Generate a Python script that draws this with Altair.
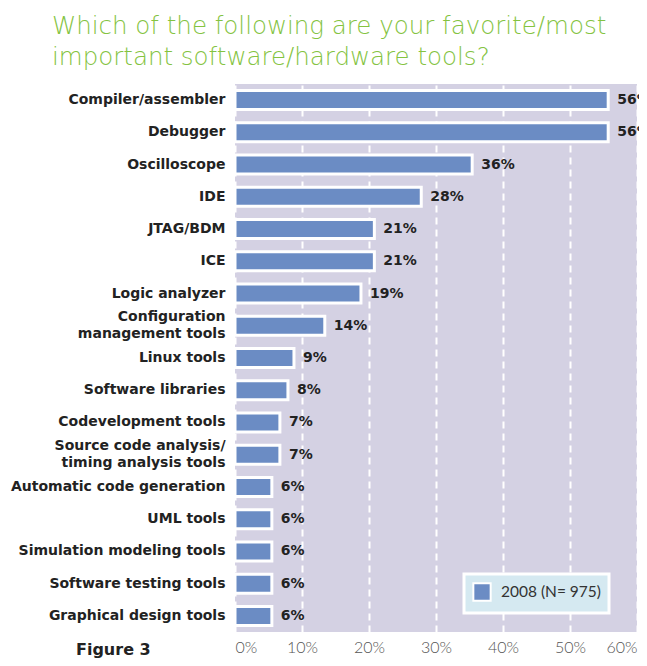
import altair as alt
import pandas as pd

categories = [
    "Compiler/assembler", "Debugger", "Oscilloscope", "IDE", "JTAG/BDM", "ICE",
    "Logic analyzer", "Configuration\nmanagement tools", "Linux tools",
    "Software libraries", "Codevelopment tools",
    "Source code analysis/\ntiming analysis tools", "Automatic code generation",
    "UML tools", "Simulation modeling tools", "Software testing tools",
    "Graphical design tools",
]
values = [55.7, 55.7, 35.4, 27.8, 20.8, 20.8, 18.8, 13.4, 8.8, 7.9, 6.7, 6.7,
          5.5, 5.5, 5.5, 5.5, 5.5]
labels = ["56%", "56%", "36%", "28%", "21%", "21%", "19%", "14%", "9%", "8%",
          "7%", "7%", "6%", "6%", "6%", "6%", "6%"]
series_name = "2008 (N= 975)"
x_ticks = [0, 10, 20, 30, 40, 50, 60]

df = pd.DataFrame({"cat": categories, "value": values, "label": labels,
                   "series": [series_name] * len(categories)})

W, H = 402, 548

y_enc = alt.Y("cat:N", sort=categories, title=None,
              scale=alt.Scale(paddingInner=0.0, paddingOuter=0.0),
              axis=alt.Axis(labelExpr="split(datum.label, '\\n')",
                            labelOffset={"expr": "indexof(datum.label, '\\n') >= 0 ? -9 : 0"},
                            labelFont="DejaVu Sans", labelFontWeight="bold",
                            labelFontSize=14, labelColor="#222222",
                            labelLineHeight=17, labelPadding=10,
                            ticks=False, domain=False, grid=False,
                            labelLimit=300))
x_enc = alt.X("value:Q", title=None,
              scale=alt.Scale(domain=[0, 60], nice=False),
              axis=alt.Axis(values=x_ticks, labelExpr="datum.value + '%'",
                            labelFont="Lato", labelFontWeight=300,
                            labelFontSize=16, labelColor="#555555",
                            labelPadding=7, ticks=False, domain=False,
                            grid=True, gridColor="white", gridWidth=2,
                            gridDash=[7, 5]))

bars = alt.Chart(df).mark_bar(size=19, stroke="white", strokeWidth=3).encode(
    x=x_enc, y=y_enc,
    color=alt.Color("series:N", title=None,
                    scale=alt.Scale(range=["#6b8cc4"]),
                    legend=alt.Legend(orient="none", legendX=229, legendY=490,
                                      symbolType="square", symbolSize=300,
                                      symbolStrokeColor="white",
                                      symbolStrokeWidth=2,
                                      symbolOpacity=1,
                                      labelFont="Lato", labelFontSize=15.5,
                                      labelColor="#333333",
                                      labelOffset=9,
                                      fillColor="#d5e9f1",
                                      strokeColor="white",
                                      padding=8)),
)

text = alt.Chart(df).mark_text(align="left", baseline="middle", dx=9,
                               font="DejaVu Sans", fontWeight="bold",
                               fontSize=14, color="#222222").encode(
    x="value:Q", y=alt.Y("cat:N", sort=categories), text="label:N")

fig = alt.Chart(pd.DataFrame({"t": ["Figure 3"]})).mark_text(
    align="left", baseline="alphabetic", font="DejaVu Sans", fontWeight="bold",
    fontSize=16, color="#222222").encode(
    x=alt.value(-159), y=alt.value(571), text="t:N")

chart = alt.layer(bars, text, fig).properties(
    width=W, height=H,
    autosize=alt.AutoSizeParams(type="none"),
    padding={"left": 227, "top": 76, "right": 2, "bottom": 26},
    title=alt.Title(["Which of the following are your favorite/most",
                     "important software/hardware tools?"],
                    anchor="start", frame="group", dx=-183, offset=14,
                    font="DejaVu Sans", fontSize=24.5, fontWeight=200,
                    color="#84c341", lineHeight=31),
).configure_view(fill="#d4d1e3", stroke=None).configure_legend(strokeWidth=3)

chart.save("out.html", embed_options={"renderer": "svg", "actions": False})
